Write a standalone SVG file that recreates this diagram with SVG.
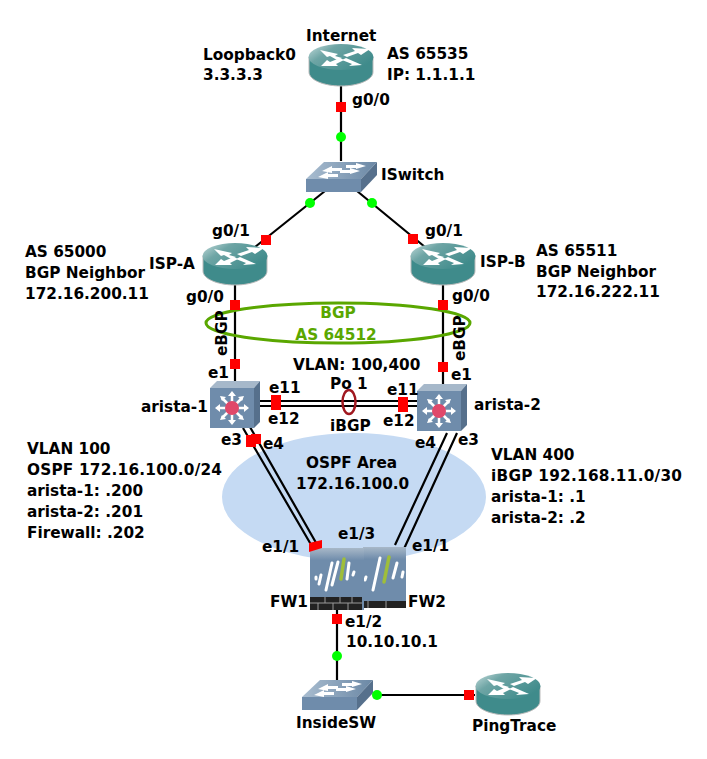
<svg xmlns="http://www.w3.org/2000/svg" width="707" height="759" viewBox="0 0 707 759">
<style>
text{font-family:"DejaVu Sans",sans-serif;font-weight:700;font-size:15.300px;fill:#000}
.bgp{fill:#5aa700}
.ln{stroke:#000;stroke-width:2.200;fill:none}
.r{fill:#f00}
.g{fill:#0f0}
.w{fill:#fff}
.mk{stroke:#fff;stroke-width:3;stroke-linecap:round;fill:none}
.gm{stroke:#9fbe3a;stroke-width:3.500;stroke-linecap:round;fill:none}
</style>
<defs>
<linearGradient id="rt" x1="0" y1="0" x2="1" y2="0.6"><stop offset="0" stop-color="#c5dcdc"/><stop offset="0.35" stop-color="#6ea5a5"/><stop offset="1" stop-color="#3f8b8b"/></linearGradient>
<linearGradient id="sw" x1="0" y1="0" x2="1" y2="0"><stop offset="0" stop-color="#a9bdd0"/><stop offset="1" stop-color="#6b88a5"/></linearGradient>
<linearGradient id="fw" x1="0" y1="0" x2="0" y2="1"><stop offset="0" stop-color="#a8b8c8"/><stop offset="0.2" stop-color="#6f8cab"/><stop offset="1" stop-color="#6f8cab"/></linearGradient>
<symbol id="router" width="66" height="43" overflow="visible">
<path d="M1 13V28C1 36 16 42 33 42S65 36 65 28V13Z" fill="#3f8b8b" stroke="#bbb" stroke-width="1"/>
<ellipse cx="33" cy="13" rx="32.500" ry="13" fill="url(#rt)"/>
<g class="w"><path d="M12 6L30 10 27 12 34 14 29 16 22 12 19 13Z"/><path d="M62 5L44 4 47 7 35 11 39 13 50 9 53 11Z"/><path d="M13 22L30 22 28 20 36 16 32 14 22 18 19 16Z"/><path d="M54 21L38 14 34 16 44 20 41 22Z"/></g>
</symbol>
<symbol id="switch" width="72" height="32" overflow="visible">
<path d="M0 18L18 1H71L55 18Z" fill="url(#sw)"/><path d="M0 18H55V31H0Z" fill="#6f8cab"/><path d="M55 18L71 1V14L55 31Z" fill="#56708c"/>
<g class="w"><path d="M16 10L26 5V7H36V10H26V12Z"/><path d="M60 5L50 2V4H40V7H50V8Z"/><path d="M12 16L22 11V13H32V16H22V18Z"/><path d="M54 10L44 7V9H34V12H44V13Z"/></g>
</symbol>
<symbol id="arista" width="51" height="48" overflow="visible">
<path d="M0 7L7 0H50L44 7Z" fill="#a6b8ca"/><path d="M44 7L50 0V41L44 47Z" fill="#56708c"/><rect x="0" y="7" width="44" height="40" fill="#6f8cab"/>
<g stroke="#fff" stroke-width="2.500"><path d="M22 13V41M8 27H36M12 17L32 37M32 17L12 37"/></g>
<g class="w"><path d="M22 10L18 15H26ZM22 44L18 39H26ZM5 27L10 23V31ZM39 27L34 23V31ZM10 15L16 16 12 20ZM34 15L28 16 32 20ZM10 39L16 38 12 34ZM34 39L28 38 32 34Z"/></g>
<circle cx="22" cy="27" r="7" fill="#e0486a"/>
</symbol>
</defs>
<rect width="707" height="759" fill="#fff"/>
<ellipse id="ospf-area" cx="354" cy="497" rx="132" ry="64" fill="#c5daf3"/>
<g id="connectors">
<path class="ln" d="M341 86V161M325 191L255 247M357 191L425 247M235 285V381M443 285V384M260 401H418M260 406H418M337 610V680M373 695H475"/>
<path class="ln" d="M243 428L313 548M250 427L319 548M447 433L395 545M457 433L403 551"/>
</g>
<ellipse id="bgp-ring" cx="338" cy="323" rx="132" ry="20" fill="none" stroke="#5aa700" stroke-width="3"/>
<ellipse id="po1-ring" cx="349" cy="402" rx="6.500" ry="12" fill="none" stroke="#a01820" stroke-width="2.500"/>
<g id="Internet"><use href="#router" x="308" y="44"/><text x="306" y="41">Internet</text></g>
<g id="ISwitch"><use href="#switch" x="306" y="161"/><text x="381" y="180">ISwitch</text></g>
<g id="ISP-A"><use href="#router" x="202" y="243"/><text x="149" y="269">ISP-A</text></g>
<g id="ISP-B"><use href="#router" x="410" y="243"/><text x="480" y="267">ISP-B</text></g>
<g id="arista-1"><use href="#arista" x="210" y="381"/><text x="141" y="412">arista-1</text></g>
<g id="arista-2"><use href="#arista" x="417" y="384"/><text x="474" y="410">arista-2</text></g>
<g id="FW2"><rect x="363" y="547" width="43" height="61" fill="url(#fw)"/><rect x="363" y="601" width="43" height="7" fill="#222"/><path d="M368 601V608M386 601V608" stroke="#999"/>
<path class="mk" d="M366 577L365 580M380 558L373 590M397 563L393 578M403 572L402 577"/><path class="gm" d="M389 557L384 582"/><text x="408" y="607">FW2</text></g>
<g id="FW1"><rect x="310" y="548" width="54" height="62" fill="url(#fw)"/><rect x="310" y="597" width="52" height="13" fill="#222"/><path d="M310 603H362M325 597V603M340 597V603M352 597V603M318 603V610M333 603V610M348 603V610" stroke="#999" stroke-width="1"/>
<path class="mk" d="M316 577V579M321 575L319 584M332 563L326 590M338 562L332 585M349 563L347 579M354 572L353 575"/><path class="gm" d="M344 559L341 579"/><text x="270" y="607">FW1</text></g>
<g id="InsideSW"><use href="#switch" x="302" y="679"/><text x="296" y="728">InsideSW</text></g>
<g id="PingTrace"><use href="#router" x="475" y="673"/><text x="472" y="731">PingTrace</text></g>
<g id="port-dots">
<rect class="r" x="336" y="102" width="10" height="10"/><circle class="g" cx="341" cy="137" r="5"/>
<circle class="g" cx="310" cy="203" r="5"/><circle class="g" cx="372" cy="203" r="5"/>
<rect class="r" x="261" y="235" width="10" height="10"/><rect class="r" x="408" y="234" width="10" height="10"/>
<rect class="r" x="230" y="300" width="10" height="10"/><rect class="r" x="438" y="300" width="10" height="10"/>
<rect class="r" x="230" y="359" width="10" height="10"/><rect class="r" x="438" y="362" width="10" height="10"/>
<rect class="r" x="271" y="395" width="10" height="15"/><rect class="r" x="398" y="397" width="10" height="15"/>
<rect class="r" x="246" y="435" width="10" height="12"/><rect class="r" x="251" y="434" width="10" height="10"/>
<path class="r" d="M309 543L322 540V548L309 552Z"/>
<rect class="r" x="332" y="614" width="10" height="10"/><circle class="g" cx="337" cy="656" r="5"/>
<circle class="g" cx="377" cy="695" r="5"/><rect class="r" x="464" y="690" width="10" height="10"/>
</g>
<g id="labels">
<text x="203" y="60">Loopback0</text><text x="203" y="80">3.3.3.3</text>
<text x="387" y="59">AS 65535</text><text x="387" y="80">IP: 1.1.1.1</text>
<text x="352" y="105">g0/0</text>
<text x="212" y="236">g0/1</text><text x="425" y="236">g0/1</text>
<text x="25" y="257">AS 65000</text><text x="25" y="278">BGP Neighbor</text><text x="25" y="299">172.16.200.11</text>
<text x="536" y="256">AS 65511</text><text x="536" y="277">BGP Neighbor</text><text x="536" y="297">172.16.222.11</text>
<text x="186" y="302">g0/0</text><text x="452" y="301">g0/0</text>
<text class="bgp" x="338" y="318" text-anchor="middle">BGP</text><text class="bgp" x="336" y="340" text-anchor="middle">AS 64512</text>
<text transform="translate(227,356) rotate(-90)" x="0" y="0">eBGP</text><text transform="translate(465,361) rotate(-90)" x="0" y="0">eBGP</text>
<text x="208" y="378">e1</text><text x="451" y="380">e1</text>
<text x="293" y="370">VLAN: 100,400</text><text x="330" y="389">Po 1</text><text x="330" y="431">iBGP</text>
<text x="269" y="393">e11</text><text x="268" y="424">e12</text><text x="387" y="395">e11</text><text x="383" y="426">e12</text>
<text x="221" y="445">e3</text><text x="263" y="449">e4</text><text x="415" y="448">e4</text><text x="458" y="445">e3</text>
<text x="306" y="468">OSPF Area</text><text x="296" y="489">172.16.100.0</text>
<text x="27" y="454">VLAN 100</text><text x="27" y="475" textLength="195">OSPF 172.16.100.0/24</text><text x="27" y="496">arista-1: .200</text><text x="27" y="517">arista-2: .201</text><text x="27" y="538">Firewall: .202</text>
<text x="491" y="460">VLAN 400</text><text x="491" y="481" textLength="191">iBGP 192.168.11.0/30</text><text x="491" y="502">arista-1: .1</text><text x="491" y="523">arista-2: .2</text>
<text x="262" y="552">e1/1</text><text x="338" y="539">e1/3</text><text x="412" y="551">e1/1</text>
<text x="345" y="627">e1/2</text><text x="346" y="647">10.10.10.1</text>
</g>
</svg>
